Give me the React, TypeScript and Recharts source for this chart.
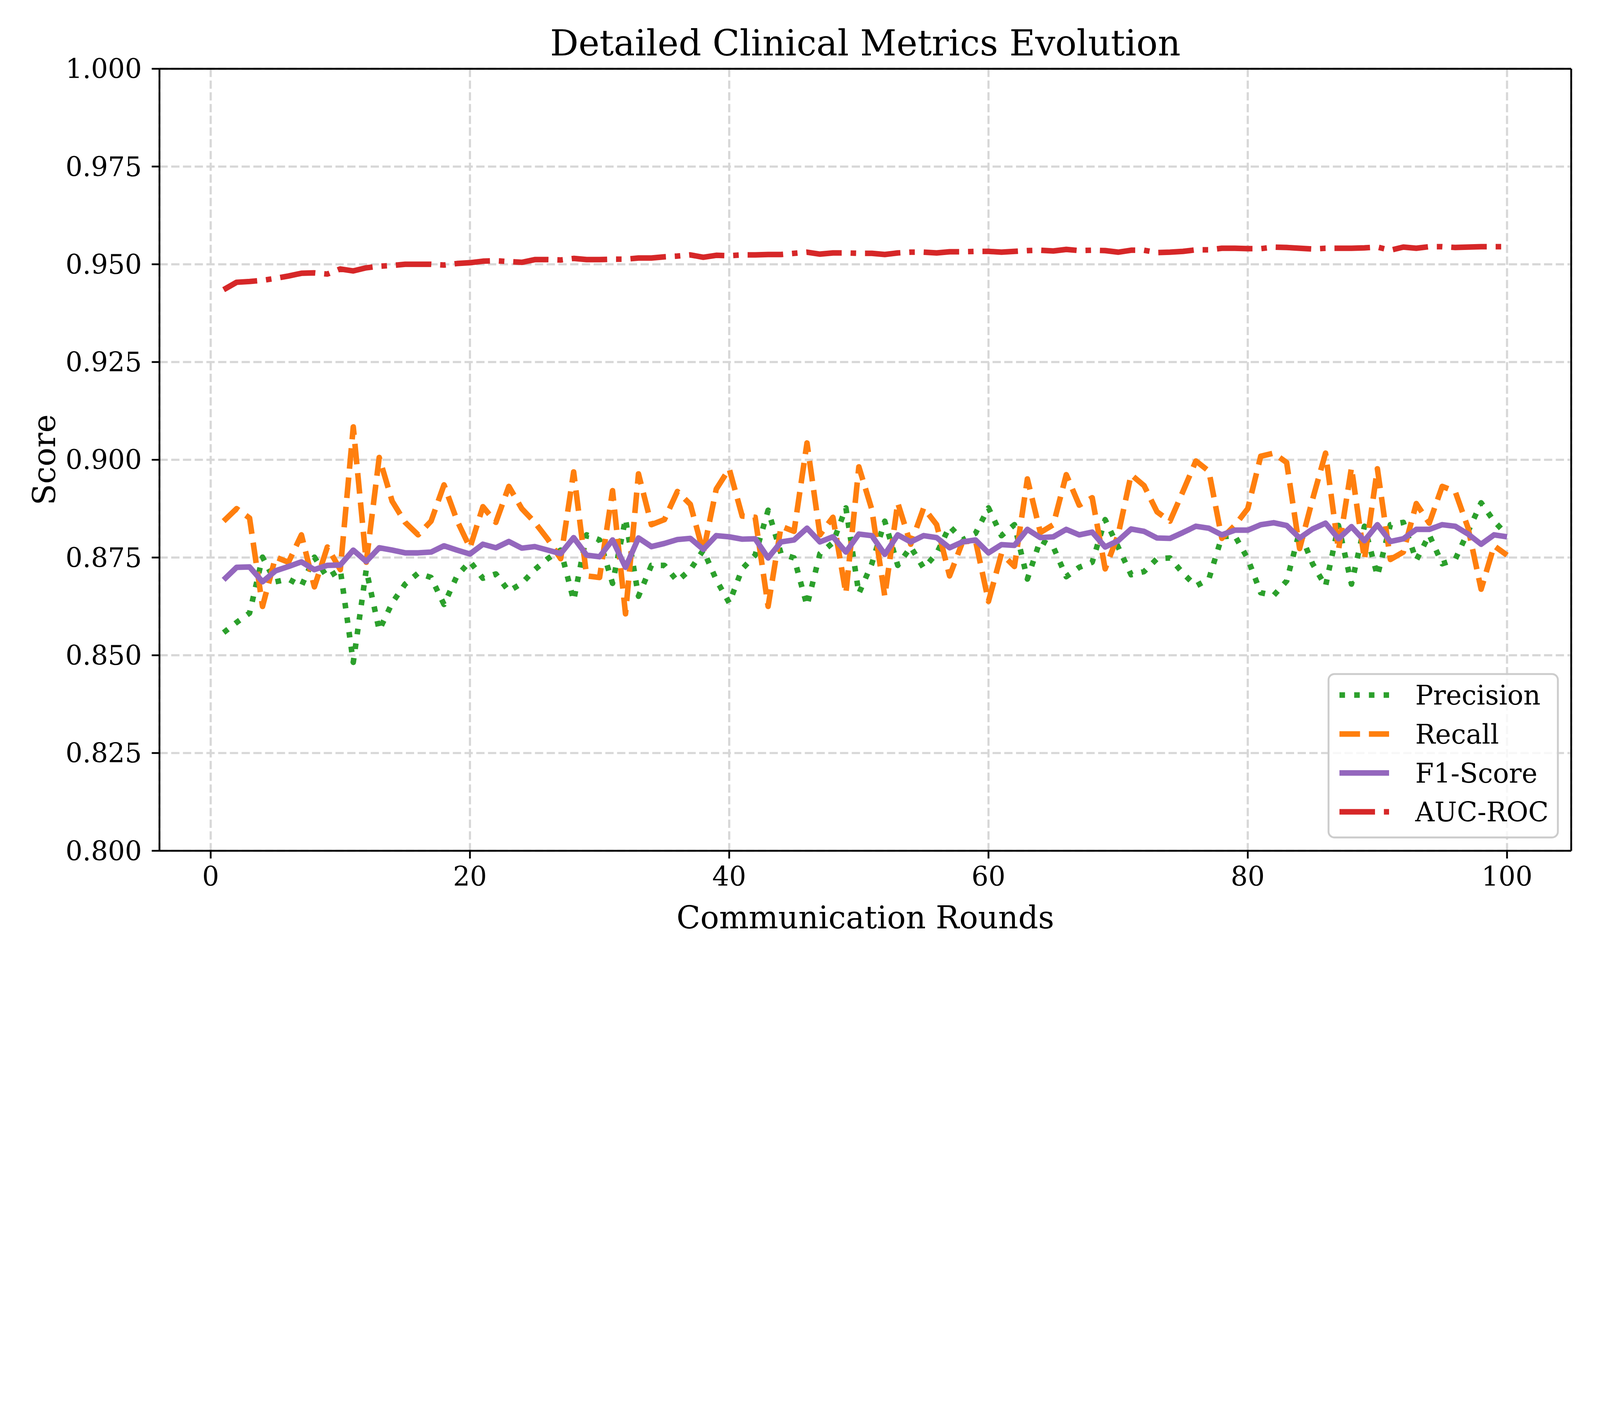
import { LineChart, Line, XAxis, YAxis, CartesianGrid, ReferenceLine } from "recharts";

/**
 * Detailed Clinical Metrics Evolution
 * Four clinical metrics tracked over 100 communication rounds
 */

const W = 6000;
const H = 3600;
const FONT = "'DejaVu Serif', serif";
const LW = 20.8; // 2.5pt at 600 dpi

const ROUNDS = Array.from({ length: 100 }, (_, i) => i + 1);

const PRECISION = [
  0.8558, 0.8584, 0.8608, 0.8751, 0.8688, 0.8695, 0.8677, 0.8751, 0.8699, 0.8719,
  0.8482, 0.8719, 0.8564, 0.8634, 0.8682, 0.871, 0.8699, 0.863, 0.8703, 0.874,
  0.8697, 0.8708, 0.8664, 0.8684, 0.8719, 0.8747, 0.8769, 0.864, 0.8808, 0.8795,
  0.8684, 0.8849, 0.8651, 0.873, 0.873, 0.869, 0.8719, 0.8769, 0.8693, 0.8634,
  0.8721, 0.8756, 0.8871, 0.876, 0.8749, 0.8627, 0.876, 0.8788, 0.8877, 0.8658,
  0.8734, 0.8843, 0.873, 0.8777, 0.8723, 0.876, 0.883, 0.8795, 0.8812, 0.8877,
  0.8806, 0.8834, 0.8695, 0.8795, 0.8777, 0.8701, 0.8725, 0.8738, 0.8847, 0.8777,
  0.8706, 0.8714, 0.8747, 0.8749, 0.871, 0.8677, 0.8695, 0.8803, 0.8806, 0.8747,
  0.866, 0.8653, 0.869, 0.8817, 0.8734, 0.8677, 0.8832, 0.8682, 0.883, 0.8703,
  0.8834, 0.884, 0.8743, 0.8808, 0.8734, 0.8745, 0.8817, 0.889, 0.8843, 0.8808,
];

const RECALL = [
  0.8843, 0.8875, 0.8851, 0.8625, 0.8751, 0.8738, 0.8808, 0.8675, 0.8777, 0.8719,
  0.9084, 0.8738, 0.9006, 0.8894, 0.884, 0.8808, 0.8843, 0.8936, 0.8845, 0.8775,
  0.888, 0.884, 0.8932, 0.8875, 0.884, 0.8797, 0.8747, 0.8969, 0.8703, 0.8699,
  0.8921, 0.8606, 0.8964, 0.8834, 0.8847, 0.8919, 0.8886, 0.8764, 0.8925, 0.8977,
  0.8856, 0.8853, 0.8625, 0.883, 0.8817, 0.9043, 0.8808, 0.8853, 0.8658, 0.8982,
  0.8873, 0.8651, 0.889, 0.8784, 0.8877, 0.8834, 0.8703, 0.879, 0.8793, 0.8638,
  0.876, 0.8727, 0.8951, 0.8814, 0.8834, 0.8962, 0.8884, 0.8903, 0.8721, 0.8808,
  0.8962, 0.8934, 0.8867, 0.8843, 0.8919, 0.8997, 0.8971, 0.8799, 0.8832, 0.8875,
  0.9009, 0.9017, 0.8993, 0.8773, 0.8899, 0.9017, 0.8769, 0.898, 0.8745, 0.8977,
  0.8745, 0.8764, 0.8888, 0.8838, 0.8932, 0.8919, 0.8825, 0.8669, 0.878, 0.8756,
];

const F1 = [
  0.8693, 0.8725, 0.8726, 0.8688, 0.8716, 0.8727, 0.8739, 0.8719, 0.873, 0.8731,
  0.8769, 0.874, 0.8775, 0.8769, 0.8762, 0.8762, 0.8764, 0.878, 0.8769, 0.8759,
  0.8784, 0.8775, 0.8791, 0.8774, 0.8778, 0.8769, 0.876, 0.8801, 0.8756, 0.8752,
  0.8795, 0.8725, 0.88, 0.8778, 0.8786, 0.8796, 0.8799, 0.8771, 0.8806, 0.8803,
  0.8797, 0.8798, 0.8749, 0.879, 0.8795, 0.8825, 0.879, 0.8803, 0.8764, 0.881,
  0.8806, 0.8758, 0.8808, 0.879, 0.8806, 0.8801, 0.8775, 0.879, 0.8795, 0.8762,
  0.8783, 0.8781, 0.8822, 0.8801, 0.8803, 0.8822, 0.8808, 0.8815, 0.8777, 0.8793,
  0.8823, 0.8817, 0.88, 0.8799, 0.8814, 0.883, 0.8825, 0.8808, 0.882, 0.882,
  0.8834, 0.8839, 0.8832, 0.88, 0.8823, 0.8838, 0.8798, 0.8829, 0.8793, 0.8834,
  0.8791, 0.8798, 0.8822, 0.8822, 0.8834, 0.883, 0.881, 0.8784, 0.8808, 0.8803,
];

const AUC_ROC = [
  0.9435, 0.9454, 0.9456, 0.9459, 0.9464, 0.947, 0.9477, 0.9478, 0.9475, 0.9488,
  0.9483, 0.9491, 0.9495, 0.9497, 0.95, 0.95, 0.95, 0.9498, 0.9502, 0.9504,
  0.9508, 0.9509, 0.9507, 0.9505, 0.9512, 0.9512, 0.9511, 0.9515, 0.9512, 0.9512,
  0.9513, 0.9513, 0.9516, 0.9516, 0.9519, 0.9521, 0.9524, 0.9518, 0.9523, 0.9522,
  0.9524, 0.9524, 0.9525, 0.9525, 0.9528, 0.9531, 0.9526, 0.9529, 0.9529, 0.9528,
  0.9528, 0.9525, 0.9529, 0.9531, 0.9531, 0.9529, 0.9532, 0.9532, 0.9533, 0.9533,
  0.9531, 0.9533, 0.9535, 0.9536, 0.9534, 0.9538, 0.9535, 0.9536, 0.9535, 0.9531,
  0.9536, 0.9536, 0.953, 0.9531, 0.9533, 0.9537, 0.9537, 0.9541, 0.9541, 0.954,
  0.954, 0.9544, 0.9543, 0.9541, 0.9539, 0.9541, 0.9541, 0.9541, 0.9542, 0.9544,
  0.9536, 0.9544, 0.9541, 0.9545, 0.9545, 0.9543, 0.9544, 0.9545, 0.9545, 0.9545,
];

const X_TICKS = [0, 20, 40, 60, 80, 100];
const Y_TICKS = [0.8, 0.825, 0.85, 0.875, 0.9, 0.925, 0.95, 0.975, 1.0];

const SERIES = [
  { key: "precision", name: "Precision", color: "#2ca02c", dash: "20.8 34.4" },
  { key: "recall", name: "Recall", color: "#ff7f0e", dash: "77.1 33.3" },
  { key: "f1", name: "F1-Score", color: "#9467bd", dash: undefined },
  { key: "auc", name: "AUC-ROC", color: "#d62728", dash: "133.3 33.3 20.8 33.3" },
];

const data = ROUNDS.map((round, i) => ({
  round,
  precision: PRECISION[i],
  recall: RECALL[i],
  f1: F1[i],
  auc: AUC_ROC[i],
}));

// plot box (px, in figure coordinates)
const PLOT_LEFT = 598;
const PLOT_RIGHT = 5892;
const PLOT_TOP = 258;
const PLOT_BOTTOM = 3191;

const tickStyle = { fontFamily: FONT, fontSize: 100, fill: "#000" };

// drop the default body margin so the figure starts at the page corner
if (typeof document !== "undefined") {
  document.body.style.margin = "0";
}

// the visible viewport can be narrower than the figure; fit the figure into it
function fitScale(): number {
  if (typeof window === "undefined") return 1;
  const sw = window.innerWidth > 0 ? window.innerWidth / W : 1;
  const sh = window.innerHeight > 0 ? window.innerHeight / H : 1;
  return Math.min(1, sw, sh);
}

function Overlay() {
  const cx = (PLOT_LEFT + PLOT_RIGHT) / 2;
  const cy = (PLOT_TOP + PLOT_BOTTOM) / 2;
  // legend box
  const lx = 4982;
  const ly = 2528;
  return (
    <svg
      width={W}
      height={H}
      style={{ position: "absolute", left: 0, top: 0, pointerEvents: "none" }}
    >
      <text x={cx} y={208} textAnchor="middle" fontFamily={FONT} fontSize={133} fill="#000">
        Detailed Clinical Metrics Evolution
      </text>
      <text x={cx} y={3482} textAnchor="middle" fontFamily={FONT} fontSize={117} fill="#000">
        Communication Rounds
      </text>
      <text
        x={207}
        y={cy}
        textAnchor="middle"
        fontFamily={FONT}
        fontSize={117}
        fill="#000"
        transform={`rotate(-90 207 ${cy})`}
      >
        Score
      </text>

      {/* Legend */}
      <rect
        x={lx}
        y={ly}
        width={860}
        height={613}
        rx={22}
        ry={22}
        fill="rgba(255,255,255,0.8)"
        stroke="#cccccc"
        strokeWidth={7}
      />
      {SERIES.map((s, i) => {
        const y = 2607 + i * 146;
        return (
          <g key={s.key}>
            <line
              x1={5023}
              x2={5209}
              y1={y}
              y2={y}
              stroke={s.color}
              strokeWidth={LW}
              strokeDasharray={s.dash}
            />
            <text x={5307} y={y + 36} fontFamily={FONT} fontSize={100} fill="#000">
              {s.name}
            </text>
          </g>
        );
      })}
    </svg>
  );
}

export default function App() {
  const s = fitScale();
  return (
    <div style={{ width: W * s, height: H * s, overflow: "hidden", background: "#fff" }}>
      <div
        style={{
          position: "relative",
          width: W,
          height: H,
          background: "#fff",
          transform: `scale(${s})`,
          transformOrigin: "0 0",
        }}
      >
        <LineChart
          width={W}
          height={H}
          data={data}
          margin={{ top: PLOT_TOP, right: W - PLOT_RIGHT, bottom: 0, left: 0 }}
        >
          <CartesianGrid stroke="#d7d7d7" strokeWidth={8} strokeDasharray="31 13" />
          <XAxis
            dataKey="round"
            type="number"
            domain={[-3.95, 104.95]}
            allowDataOverflow
            ticks={X_TICKS}
            height={H - PLOT_BOTTOM}
            tick={tickStyle}
            tickSize={29}
            tickMargin={31}
            tickLine={{ stroke: "#000", strokeWidth: 6.7 }}
            axisLine={{ stroke: "#000", strokeWidth: 6.7 }}
          />
          <YAxis
            type="number"
            domain={[0.8, 1.0]}
            allowDataOverflow
            ticks={Y_TICKS}
            width={PLOT_LEFT}
            tick={tickStyle}
            tickSize={29}
            tickMargin={37}
            tickFormatter={(v: number) => v.toFixed(3)}
            tickLine={{ stroke: "#000", strokeWidth: 6.7 }}
            axisLine={{ stroke: "#000", strokeWidth: 6.7 }}
          />
          {SERIES.map((sr) => (
            <Line
              key={sr.key}
              dataKey={sr.key}
              name={sr.name}
              type="linear"
              stroke={sr.color}
              strokeWidth={LW}
              strokeDasharray={sr.dash}
              strokeLinejoin="round"
              strokeLinecap="butt"
              dot={false}
              activeDot={false}
              isAnimationActive={false}
            />
          ))}
          {/* top and right spines */}
          <ReferenceLine y={1.0} stroke="#000" strokeWidth={6.7} />
          <ReferenceLine x={104.95} stroke="#000" strokeWidth={6.7} />
        </LineChart>
        <Overlay />
      </div>
    </div>
  );
}
